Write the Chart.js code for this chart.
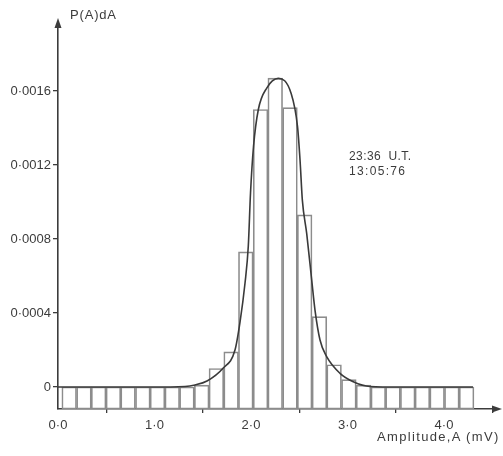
<!DOCTYPE html>
<html>
<head>
<meta charset="utf-8">
<script src="https://cdn.jsdelivr.net/npm/chart.js@4/dist/chart.umd.min.js"></script>
<style>
  html, body { margin: 0; padding: 0; background: #ffffff; }
  #wrap { width: 503px; height: 456px; position: relative; overflow: hidden; }
  #c, #ov { position: absolute; left: 0; top: 0; }
  #ov { pointer-events: none; }
  .t { position: absolute; white-space: pre; color: #3c3c3c; font-family: 'Liberation Sans', Arial, sans-serif; }
  .xt { transform: translateX(-50%); text-align: center; }
</style>
</head>
<body>
<div id="wrap">
  <canvas id="c" width="503" height="456"></canvas>
  <canvas id="ov" width="503" height="456"></canvas>
</div>
<script>
// ---- data ----
const binCenters = [0.116, 0.269, 0.421, 0.574, 0.726, 0.879, 1.031, 1.184, 1.336, 1.489,
                    1.641, 1.794, 1.946, 2.099, 2.251, 2.404, 2.556, 2.709, 2.861, 3.014,
                    3.166, 3.319, 3.471, 3.624, 3.776, 3.929, 4.081, 4.234];
const binValues  = [0, 0, 0, 0, 0, 0, 0, 0, 0, 0.00001,
                    0.0001, 0.00019, 0.00073, 0.0015, 0.00167, 0.00151, 0.00093, 0.00038, 0.00012, 0.00004,
                    0.00001, 0, 0, 0, 0, 0, 0, 0];
const curveX = [0, 0.953, 1.316, 1.420, 1.544, 1.710, 1.834, 1.886, 1.938, 1.972, 1.995, 2.026,
                2.076, 2.163, 2.283, 2.415, 2.482, 2.508, 2.532, 2.577, 2.629, 2.663, 2.715,
                2.784, 2.922, 3.060, 3.233, 3.544, 4.30];
const curveY = [0, 0, 0.000003, 0.000011, 0.000032, 0.000101, 0.0002, 0.000351, 0.000562, 0.000762,
                0.00105, 0.0013, 0.0015, 0.001616, 0.001668, 0.001588, 0.001407, 0.001227, 0.00101,
                0.00083, 0.000578, 0.000416, 0.000254, 0.000164, 0.000074, 0.0000286, 0.000003, 0, 0];
const xTicks = [0, 1, 2, 3, 4];
const xTickLabels = ['0·0', '1·0', '2·0', '3·0', '4·0'];
const yTicks = [0, 0.0004, 0.0008, 0.0012, 0.0016];
const yTickLabels = ['0', '0·0004', '0·0008', '0·0012', '0·0016'];
const yAxisLabel = 'P(A)dA';
const xAxisLabel = 'Amplitude,A (mV)';
const noteLines = ['23:36  U.T.', '13:05:76'];

// ---- axis ranges ----
const X_MIN = 0, X_MAX = 4.549;
const Y_MIN = -0.000119, Y_MAX = 0.001973;

const INK = '#3c3c3c';
const FONT = 'Liberation Sans, Arial, sans-serif';

const barData = binCenters.map((x, i) => ({ x: x, y: binValues[i] }));
const lineData = curveX.map((x, i) => ({ x: x, y: curveY[i] }));

const chart = new Chart(document.getElementById('c'), {
  type: 'bar',
  data: {
    datasets: [
      { type: 'line', data: lineData, borderColor: '#3a3a3a', borderWidth: 1.6, pointRadius: 0,
        fill: false, cubicInterpolationMode: 'monotone', order: 0 },
      { type: 'bar', data: barData, base: Y_MIN, backgroundColor: 'rgba(255,255,255,0)',
        borderColor: '#8c8c8c', borderWidth: 1, borderSkipped: false,
        barPercentage: 1, categoryPercentage: 1, order: 1 }
    ]
  },
  options: {
    responsive: false, animation: false, devicePixelRatio: 1,
    layout: { padding: { top: 22, right: 6, left: 0, bottom: 43 } },
    plugins: { legend: { display: false }, tooltip: { enabled: false } },
    scales: {
      x: {
        type: 'linear', min: X_MIN, max: X_MAX, offset: false,
        afterBuildTicks(s) { s.ticks = xTicks.map(v => ({ value: v })); },
        grid: { drawOnChartArea: false, drawTicks: true, tickLength: 4, color: INK, lineWidth: 1.3 },
        border: { color: INK, width: 1.6 },
        ticks: { display: false }
      },
      y: {
        type: 'linear', min: Y_MIN, max: Y_MAX,
        afterFit(s) { s.width = 58; },
        afterBuildTicks(s) { s.ticks = yTicks.map(v => ({ value: v })); },
        grid: { drawOnChartArea: false, drawTicks: true, tickLength: 5, color: INK, lineWidth: 1.3 },
        border: { color: INK, width: 1.6 },
        ticks: { autoSkip: false, padding: 2, color: INK, font: { family: FONT, size: 13 },
          callback: (v) => { const i = yTicks.indexOf(v); return i >= 0 ? yTickLabels[i] : ''; } }
      }
    }
  }
});

// ---- overlay: axis arrows ----
const a = chart.chartArea;
const oc = document.getElementById('ov').getContext('2d');
oc.fillStyle = INK;
oc.beginPath();
oc.moveTo(a.left, a.top - 4);
oc.lineTo(a.left - 3.5, a.top + 6);
oc.lineTo(a.left + 3.5, a.top + 6);
oc.closePath();
oc.fill();
oc.beginPath();
oc.moveTo(a.right + 5, a.bottom);
oc.lineTo(a.right - 5, a.bottom - 3.5);
oc.lineTo(a.right - 5, a.bottom + 3.5);
oc.closePath();
oc.fill();

// ---- overlay: text labels (real HTML text) ----
const wrap = document.getElementById('wrap');
const meas = document.createElement('canvas').getContext('2d');
function addText(text, left, baseline, width, size) {
  meas.font = size + 'px ' + FONT;
  const w = meas.measureText(text).width;
  const sp = Math.max(0, (width - w) / Math.max(1, text.length - 1));
  const el = document.createElement('div');
  el.className = 't';
  el.textContent = text;
  el.style.fontSize = size + 'px';
  el.style.lineHeight = size + 'px';
  el.style.letterSpacing = sp.toFixed(2) + 'px';
  el.style.left = left + 'px';
  el.style.top = (baseline - size * 0.846) + 'px';
  wrap.appendChild(el);
}
addText(yAxisLabel, a.left + 12, 19, 46, 13);
addText(xAxisLabel, 377, 441, 122, 13);
addText(noteLines[0], 349, 160, 62, 12);
addText(noteLines[1], 349, 175, 56, 12);

// x tick labels, placed from the library's x scale
const xs = chart.scales.x;
xTicks.forEach((v, i) => {
  const el = document.createElement('div');
  el.className = 't xt';
  el.textContent = xTickLabels[i];
  el.style.fontSize = '13px';
  el.style.lineHeight = '13px';
  el.style.left = xs.getPixelForValue(v) + 'px';
  el.style.top = (a.bottom + 8.5) + 'px';
  wrap.appendChild(el);
});
</script>
</body>
</html>
